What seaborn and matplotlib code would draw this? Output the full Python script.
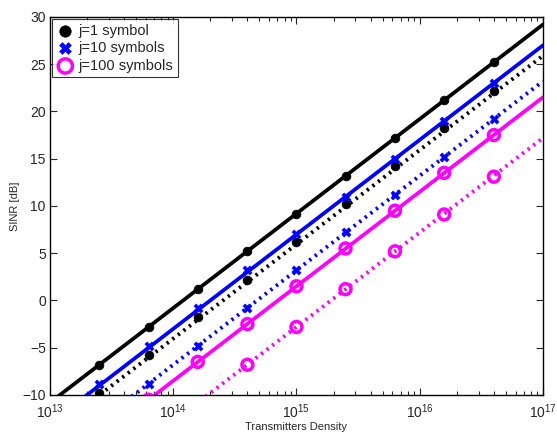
import matplotlib
matplotlib.use("Agg")
import matplotlib.pyplot as plt
import seaborn as sns
import numpy as np
import pandas as pd
from matplotlib.ticker import LogLocator, FixedLocator

sns.set_style("ticks")
plt.rcParams['font.family'] = ['Liberation Sans', 'DejaVu Sans']
plt.rcParams['mathtext.fontset'] = 'custom'
plt.rcParams['mathtext.rm'] = 'Liberation Sans'
plt.rcParams['mathtext.it'] = 'Liberation Sans'
plt.rcParams['mathtext.default'] = 'regular'

# Marker positions (transmitter density)
marker_x = [2.5e13, 6.3e13, 1.58e14, 4.0e14, 1.0e15, 2.5e15, 6.3e15, 1.58e16, 4.0e16]
# Line end points
line_x = [1e13, 1e17]

# SINR values at markers [dB]
j1_solid = [-6.8, -2.8, 1.2, 5.2, 9.2, 13.2, 17.2, 21.2, 25.2]
j1_dotted = [-9.8, -5.8, -1.8, 2.2, 6.2, 10.2, 14.2, 18.2, 22.2]
j10_solid = [-8.8, -4.8, -0.8, 3.2, 7.0, 11.0, 15.0, 19.0, 23.0]
j10_dotted = [-12.8, -8.8, -4.8, -0.8, 3.2, 7.2, 11.2, 15.2, 19.2]
j100_solid = [-14.5, -10.5, -6.5, -2.5, 1.5, 5.5, 9.5, 13.5, 17.5]
j100_dotted = [-18.8, -14.8, -10.8, -6.8, -2.8, 1.2, 5.2, 9.1, 13.1]

# Line values at line_x end points
j1_solid_line = [-10.8, 29.2]
j1_dotted_line = [-14.0, 25.9]
j10_solid_line = [-13.0, 27.0]
j10_dotted_line = [-16.8, 23.2]
j100_solid_line = [-18.5, 21.5]
j100_dotted_line = [-22.8, 17.2]

labels = ["j=1 symbol", "j=10 symbols", "j=100 symbols"]
colors = ["black", "blue", "magenta"]

fig = plt.figure(figsize=(5.57, 4.34), dpi=100)
ax = fig.add_axes([0.0898, 0.0899, 0.885, 0.871])

series = [
    (j1_solid_line, j1_dotted_line, j1_solid, j1_dotted),
    (j10_solid_line, j10_dotted_line, j10_solid, j10_dotted),
    (j100_solid_line, j100_dotted_line, j100_solid, j100_dotted),
]

for i, (sl, dl, sm, dm) in enumerate(series):
    c = colors[i]
    sns.lineplot(x=line_x, y=sl, ax=ax, color=c, lw=2.7, linestyle='-', estimator=None, sort=False)
    sns.lineplot(x=line_x, y=dl, ax=ax, color=c, lw=2.8, linestyle=(0, (0.6, 1.2)), estimator=None, sort=False)
    for k, m in enumerate([sm, dm]):
        lab = labels[i] if k == 0 else None
        if i == 0:
            sns.scatterplot(x=marker_x, y=m, ax=ax, color=c, marker='o', s=40, edgecolor=c, linewidth=0.5, label=lab, zorder=5)
        elif i == 1:
            sns.scatterplot(x=marker_x, y=m, ax=ax, color=c, marker='X', s=45, edgecolor=c, linewidth=0.3, label=lab, zorder=5)
        else:
            sns.scatterplot(x=marker_x, y=m, ax=ax, marker='o', s=62, facecolors='none', edgecolor=c, linewidth=2.5, label=lab, zorder=5)

ax.set_xscale('log')
ax.set_xlim(1e13, 1e17)
ax.set_ylim(-10, 30)
ax.set_yticks([-10, -5, 0, 5, 10, 15, 20, 25, 30])
ax.xaxis.set_major_locator(FixedLocator([1e13, 1e14, 1e15, 1e16, 1e17]))
ax.xaxis.set_minor_locator(LogLocator(base=10, subs=np.arange(2, 10), numticks=20))
ax.set_xticklabels([r'$10^{13}$', r'$10^{14}$', r'$10^{15}$', r'$10^{16}$', r'$10^{17}$'])
ax.tick_params(which='both', direction='in', top=True, right=True, labelsize=10, width=0.8)
ax.tick_params(which='major', length=5)
ax.tick_params(which='minor', length=3)
ax.tick_params(axis='x', pad=5)
ax.tick_params(axis='y', pad=3)
for sp in ax.spines.values():
    sp.set_linewidth(1.0)
    sp.set_color('black')

ax.set_xlabel("Transmitters Density", fontsize=8, labelpad=1)
ax.set_ylabel("SINR [dB]", fontsize=8, labelpad=2)

leg = ax.legend(loc='upper left', fontsize=10.5, frameon=True, fancybox=False,
                edgecolor='black', borderpad=0.3, handletextpad=0.3, labelspacing=0.25,
                borderaxespad=0.15, handlelength=1.2, markerscale=1.3)
leg.get_frame().set_linewidth(0.8)

fig.savefig("out.png", dpi=100)
